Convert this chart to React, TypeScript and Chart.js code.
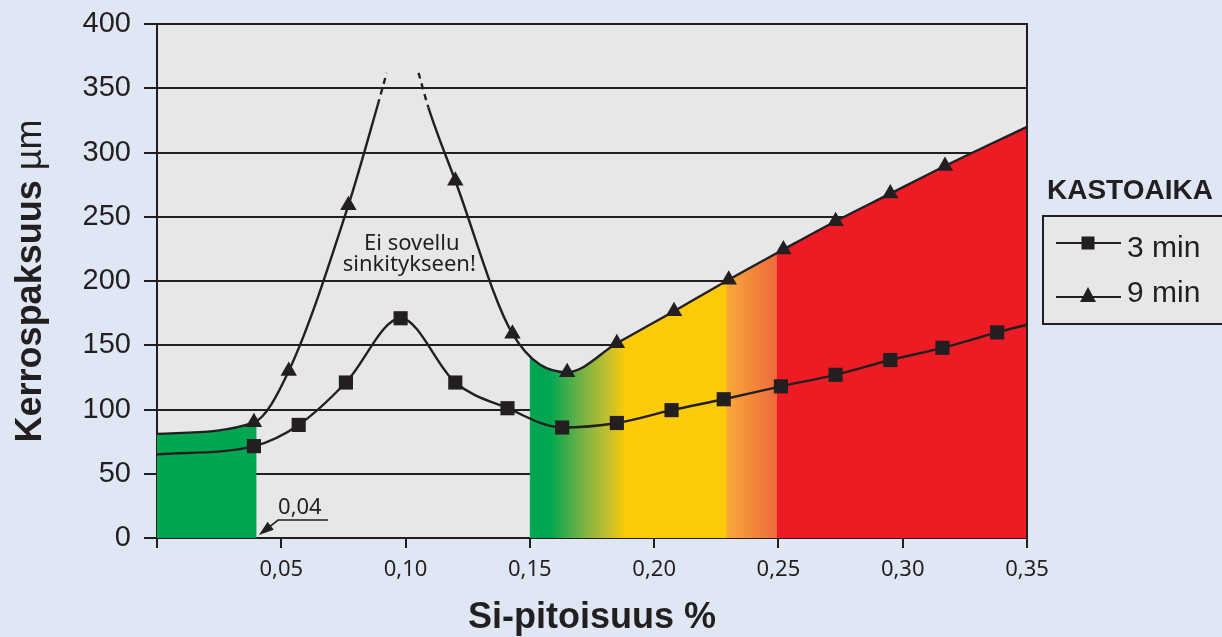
import React, { useEffect, useRef } from 'react';
import { Chart, registerables } from 'chart.js';

// ---------- data ----------
const xTicks = [0, 0.05, 0.1, 0.15, 0.2, 0.25, 0.3, 0.35];
const yTicks = [0, 50, 100, 150, 200, 250, 300, 350, 400];

// 3 min (squares)
const si3 = [0.039, 0.057, 0.076, 0.098, 0.12, 0.141, 0.163, 0.185, 0.207, 0.228, 0.251, 0.273, 0.295, 0.316, 0.338];
const thick3 = [71.5, 88, 121, 171, 121, 101, 86, 89.5, 99.5, 108, 118, 127, 138.5, 148, 160];
const curveStart3 = { x: 0, y: 65 };
const curveEnd3 = { x: 0.35, y: 166 };

// 9 min (triangles)
const si9 = [0.039, 0.053, 0.077, 0.12, 0.143, 0.165, 0.185, 0.208, 0.23, 0.252, 0.273, 0.295, 0.317];
const thick9 = [90, 130, 259, 278, 159, 129, 151.5, 176.5, 201, 224.5, 246.5, 268, 289.5];
const curveStart9 = { x: 0, y: 81 };
const curveEnd9 = { x: 0.35, y: 320 };
const peakLeft9 = [{ x: 0.0888, y: 337 }, { x: 0.0924, y: 362 }];
const peakRight9 = [{ x: 0.1052, y: 362 }, { x: 0.1092, y: 335 }];

// coloured zones (Si %)
const fillZones = [[0, 0.04], [0.15, 0.35]];

const seriesLabels = ['3 min', '9 min'];
const legendTitle = 'KASTOAIKA';
const xTitle = 'Si-pitoisuus %';
const yTitleBold = 'Kerrospaksuus ';
const yTitleUnit = 'µm';
const noteLines = ['Ei sovellu', 'sinkitykseen!'];
const limitLabel = '0,04';

// ---------- styles ----------
const INK = '#231f20';
const PAGE_BG = '#dfe7f4';
const PLOT_BG = '#e6e7e9';
const SANS = '"Liberation Sans", Arial, sans-serif';
const HUMAN = '"Noto Sans", "Open Sans", sans-serif';
const gradientStops: [number, string][] = [
  [0, '#00a651'],
  [0.158, '#00a651'],
  [0.17, '#6db146'],
  [0.18, '#b9bd33'],
  [0.189, '#fecb08'],
  [0.229, '#fecb08'],
  [0.2292, '#f9a83a'],
  [0.2492, '#ee6a3c'],
  [0.2496, '#ed1c24'],
  [0.35, '#ed1c24'],
];

const pts = (xs: number[], ys: number[]) => xs.map((x, i) => ({ x, y: ys[i] }));

const markers3 = pts(si3, thick3);
const markers9 = pts(si9, thick9);
const line3 = [curveStart3, ...markers3, curveEnd3];
const line9: { x: number; y: number | null }[] = [
  curveStart9,
  ...markers9.filter((p) => p.x < 0.09),
  ...peakLeft9,
  { x: (peakLeft9[1].x + peakRight9[0].x) / 2, y: null },
  ...peakRight9,
  ...markers9.filter((p) => p.x > 0.1),
  curveEnd9,
];
const dashedStarts = [line9.indexOf(peakLeft9[0]), line9.indexOf(peakRight9[0])];

const FILL_LABEL = 'fill9';

// registered before the built-in Filler so its clip is active when the fill is painted
const zoneClipPlugin = {
  id: 'zoneClip',
  beforeDatasetDraw(chart: any, args: any) {
    if (chart.data.datasets[args.index]?.label !== FILL_LABEL) return;
    const { ctx, chartArea: a, scales } = chart;
    ctx.save();
    ctx.beginPath();
    fillZones.forEach(([x0, x1]) => {
      const p0 = scales.x.getPixelForValue(x0);
      const p1 = scales.x.getPixelForValue(x1);
      ctx.rect(p0, a.top - 5, p1 - p0, a.bottom - a.top + 10);
    });
    ctx.clip();
  },
  afterDatasetDraw(chart: any, args: any) {
    if (chart.data.datasets[args.index]?.label !== FILL_LABEL) return;
    chart.ctx.restore();
  },
};

Chart.register(zoneClipPlugin as any);
Chart.register(...registerables);

const decorPlugin = {
  id: 'decor',
  beforeDraw(chart: any) {
    const { ctx, chartArea: a } = chart;
    ctx.save();
    ctx.fillStyle = PLOT_BG;
    ctx.fillRect(a.left, a.top, a.right - a.left, a.bottom - a.top);
    ctx.restore();
  },
  afterDraw(chart: any) {
    const { ctx, chartArea: a, scales } = chart;
    const X = (v: number) => scales.x.getPixelForValue(v);
    const Y = (v: number) => scales.y.getPixelForValue(v);
    ctx.save();
    // right border
    ctx.strokeStyle = INK;
    ctx.lineWidth = 2;
    ctx.beginPath();
    ctx.moveTo(a.right, a.top - 1);
    ctx.lineTo(a.right, a.bottom);
    ctx.stroke();

    // 0,04 annotation
    const tip = { x: X(0.041), y: Y(2.3) };
    const elbow = { x: X(0.0487), y: Y(14) };
    const end = { x: X(0.0688), y: Y(14) };
    ctx.lineWidth = 1.6;
    ctx.beginPath();
    ctx.moveTo(end.x, end.y);
    ctx.lineTo(elbow.x, elbow.y);
    ctx.lineTo(tip.x + (elbow.x - tip.x) * 0.5, tip.y + (elbow.y - tip.y) * 0.5);
    ctx.stroke();
    const dx = tip.x - elbow.x, dy = tip.y - elbow.y;
    const len = Math.hypot(dx, dy);
    const ux = dx / len, uy = dy / len;
    const hl = 15, hw = 5;
    ctx.fillStyle = INK;
    ctx.beginPath();
    ctx.moveTo(tip.x, tip.y);
    ctx.lineTo(tip.x - ux * hl - uy * hw, tip.y - uy * hl + ux * hw);
    ctx.lineTo(tip.x - ux * hl + uy * hw, tip.y - uy * hl - ux * hw);
    ctx.closePath();
    ctx.fill();
    ctx.font = `22px ${HUMAN}`;
    ctx.textAlign = 'left';
    ctx.textBaseline = 'alphabetic';
    ctx.fillText(limitLabel, elbow.x, Y(19));

    // note
    ctx.font = `22px ${HUMAN}`;
    ctx.textAlign = 'center';
    ctx.fillText(noteLines[0], X(0.1025), Y(224));
    ctx.fillText(noteLines[1], X(0.1015), Y(208));

    // x title
    ctx.font = `bold 36px ${SANS}`;
    ctx.textAlign = 'center';
    ctx.fillText(xTitle, (a.left + a.right) / 2, 628);

    // y title
    ctx.translate(41, (a.top + a.bottom) / 2);
    ctx.rotate(-Math.PI / 2);
    ctx.font = `bold 36px ${SANS}`;
    const w1 = ctx.measureText(yTitleBold).width;
    ctx.font = `36px ${SANS}`;
    const w2 = ctx.measureText(yTitleUnit).width;
    const s = -(w1 + w2) / 2;
    ctx.textAlign = 'left';
    ctx.font = `bold 36px ${SANS}`;
    ctx.fillText(yTitleBold, s, 0);
    ctx.font = `36px ${SANS}`;
    ctx.fillText(yTitleUnit, s + w1, 0);
    ctx.restore();

    // legend
    ctx.save();
    ctx.fillStyle = INK;
    ctx.font = `bold 28px ${SANS}`;
    ctx.textAlign = 'left';
    ctx.textBaseline = 'alphabetic';
    ctx.fillText(legendTitle, 1047, 199);
    ctx.fillStyle = PLOT_BG;
    ctx.fillRect(1043, 216, 200, 108);
    ctx.strokeStyle = INK;
    ctx.lineWidth = 2;
    ctx.strokeRect(1043, 216, 200, 108);
    const rows = [243, 297];
    const baselines = [257, 302];
    rows.forEach((ry, i) => {
      ctx.beginPath();
      ctx.moveTo(1056, ry);
      ctx.lineTo(1121, ry);
      ctx.stroke();
      ctx.fillStyle = INK;
      if (i === 0) {
        ctx.fillRect(1088 - 6.5, ry - 6.5, 13, 13);
      } else {
        ctx.beginPath();
        ctx.moveTo(1088, ry - 10);
        ctx.lineTo(1096, ry + 5);
        ctx.lineTo(1080, ry + 5);
        ctx.closePath();
        ctx.fill();
      }
      ctx.font = `30px ${SANS}`;
      ctx.fillText(seriesLabels[i], 1127, baselines[i]);
    });
    ctx.restore();
  },
};

function gradientFill(c: any) {
  const chart = c.chart;
  const { ctx, chartArea, scales } = chart;
  if (!chartArea || !scales.x) return 'rgba(0,0,0,0)';
  const x0 = scales.x.getPixelForValue(0);
  const x1 = scales.x.getPixelForValue(0.35);
  const g = ctx.createLinearGradient(x0, 0, x1, 0);
  gradientStops.forEach(([v, col]) => g.addColorStop(Math.min(1, Math.max(0, v / 0.35)), col));
  return g;
}

export default function App() {
  const ref = useRef<HTMLCanvasElement | null>(null);
  useEffect(() => {
    document.body.style.margin = '0';
    if (!ref.current) return;
    const chart = new Chart(ref.current, {
      type: 'line',
      data: {
        datasets: [
          {
            label: seriesLabels[0],
            data: markers3,
            showLine: false,
            pointStyle: 'rect',
            pointRadius: 10,
            pointBackgroundColor: INK,
            pointBorderColor: INK,
            pointBorderWidth: 0,
            order: 0,
          },
          {
            label: seriesLabels[1],
            data: markers9,
            showLine: false,
            pointStyle: 'triangle',
            pointRadius: 9.5,
            pointBackgroundColor: INK,
            pointBorderColor: INK,
            pointBorderWidth: 0,
            order: 0,
          },
          {
            label: 'line3',
            data: line3,
            borderColor: INK,
            borderWidth: 2.4,
            pointRadius: 0,
            cubicInterpolationMode: 'monotone',
            tension: 0.4,
            fill: false,
            order: 1,
          },
          {
            label: 'line9',
            data: line9 as any,
            borderColor: INK,
            borderWidth: 2.4,
            pointRadius: 0,
            cubicInterpolationMode: 'monotone',
            tension: 0.4,
            spanGaps: false,
            fill: false,
            segment: {
              borderDash: (s: any) => (dashedStarts.includes(s.p0DataIndex) ? [6, 5] : undefined),
            },
            order: 1,
          },
          {
            label: FILL_LABEL,
            data: line9 as any,
            borderWidth: 0,
            borderColor: 'rgba(0,0,0,0)',
            backgroundColor: gradientFill,
            pointRadius: 0,
            cubicInterpolationMode: 'monotone',
            tension: 0.4,
            spanGaps: false,
            fill: 'origin',
            order: 5,
          },
        ],
      },
      options: {
        animation: false,
        responsive: false,
        layout: { padding: { left: 0, top: 24, right: 195, bottom: 0 } },
        plugins: { legend: { display: false }, tooltip: { enabled: false } },
        scales: {
          x: {
            type: 'linear',
            min: 0,
            max: 0.35,
            z: 1,
            afterBuildTicks: (scale: any) => {
              scale.ticks = xTicks.map((v) => ({ value: v }));
            },
            afterFit: (scale: any) => {
              scale.height = 99;
            },
            grid: {
              display: true,
              drawOnChartArea: false,
              drawTicks: true,
              tickLength: 10,
              color: INK,
              lineWidth: 2,
            },
            border: { display: true, color: INK, width: 2 },
            ticks: {
              autoSkip: false,
              maxRotation: 0,
              padding: 9,
              color: INK,
              font: { family: HUMAN, size: 22 },
              callback: (v: any) => (Number(v) === 0 ? '' : Number(v).toFixed(2).replace('.', ',')),
            },
          },
          y: {
            type: 'linear',
            min: 0,
            max: 400,
            z: 1,
            afterBuildTicks: (scale: any) => {
              scale.ticks = yTicks.map((v) => ({ value: v }));
            },
            afterFit: (scale: any) => {
              scale.width = 157;
              scale.paddingTop = 0;
              scale.paddingBottom = 0;
            },
            grid: {
              color: INK,
              lineWidth: 2,
              drawTicks: true,
              tickLength: 13,
            },
            border: { display: true, color: INK, width: 2 },
            ticks: {
              padding: 13,
              color: INK,
              font: { family: SANS, size: 29 },
              callback: (v: any) => String(v),
            },
          },
        },
      },
      plugins: [decorPlugin],
    } as any);
    return () => chart.destroy();
  }, []);
  return (
    <div style={{ position: 'absolute', left: 0, top: 0, width: 1222, height: 637, background: PAGE_BG, overflow: 'hidden' }}>
      <canvas ref={ref} width={1222} height={637} style={{ display: 'block' }} />
    </div>
  );
}
